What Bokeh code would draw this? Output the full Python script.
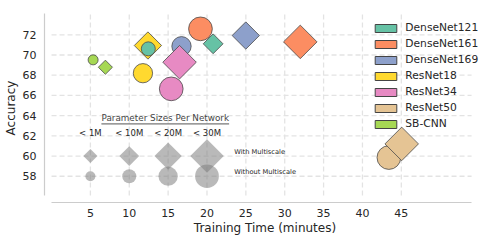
import numpy as np
from bokeh.plotting import figure
from bokeh.models import Range1d, FixedTicker, Legend, LegendItem
from bokeh.core.properties import value
from bokeh.embed import file_html
from bokeh.resources import INLINE

# ---------------- data ----------------
networks = ["DenseNet121", "DenseNet161", "DenseNet169", "ResNet18", "ResNet34", "ResNet50", "SB-CNN"]
colors = ["#66c2a5", "#fc8d62", "#8da0cb", "#ffd92f", "#e78ac3", "#e5c494", "#a6d854"]
params_m = [8.0, 28.7, 14.1, 11.7, 21.8, 25.6, 0.3]          # parameters (millions)
time_single = [12.45, 19.16, 16.72, 11.76, 15.40, 43.40, 5.35]  # without multiscale
acc_single = [70.61, 72.59, 70.87, 68.20, 66.65, 59.85, 69.52]
time_multi = [20.79, 32.00, 24.99, 12.40, 16.47, 45.05, 6.93]   # with multiscale
acc_multi = [71.11, 71.30, 71.93, 70.94, 69.29, 61.20, 68.79]
draw_order = ["DenseNet169", "DenseNet161", "ResNet18", "ResNet34", "ResNet50", "DenseNet121", "SB-CNN"]

size_labels = ["< 1M", "< 10M", "< 20M", "< 30M"]
size_bins_m = [1, 10, 20, 30]
size_key_x = [5, 10, 15, 20]
size_key_y_multi = 60
size_key_y_single = 58

x_ticks = [5, 10, 15, 20, 25, 30, 35, 40, 45]
y_ticks = [58, 60, 62, 64, 66, 68, 70, 72]

# ---------------- style ----------------
BIN_PX = [10, 14, 19.3, 23.7]
FONT = "DejaVu Sans"
TXT = "#262626"
EDGE = "#4a4a4a"
GRID = "#e3e3e3"


def bin_size(p):
    for b, s in zip(size_bins_m, BIN_PX):
        if p <= b:
            return s
    return BIN_PX[-1]


X0, X1 = 0.0, 54.04
Y0, Y1 = 56.09, 74.11

p = figure(width=485, height=242, output_backend="svg", toolbar_location=None,
           x_range=Range1d(-0.905, 55.83), y_range=Range1d(55.4, Y1),
           min_border_left=43, min_border_right=0, min_border_top=13, min_border_bottom=40)
p.outline_line_color = None
p.xgrid.visible = False
p.ygrid.visible = False
p.background_fill_color = "white"

# grid lines
p.segment(x0=x_ticks, x1=x_ticks, y0=[Y0] * len(x_ticks), y1=[Y1] * len(x_ticks),
          line_color=GRID, line_width=1.3, line_dash="5 3")
p.segment(x0=[X0] * len(y_ticks), x1=[X1] * len(y_ticks), y0=y_ticks, y1=y_ticks,
          line_color=GRID, line_width=1.3, line_dash="5 3")

# axes
for ax, ticks, bnds in ((p.xaxis[0], x_ticks, (X0, X1)), (p.yaxis[0], y_ticks, (Y0, Y1))):
    ax.ticker = FixedTicker(ticks=ticks)
    ax.bounds = bnds
    ax.major_tick_out = 0
    ax.major_tick_in = 0
    ax.minor_tick_out = 0
    ax.minor_tick_in = 0
    ax.axis_line_color = "#cccccc"
    ax.axis_line_width = 1.2
    ax.major_label_text_font = FONT
    ax.major_label_text_font_size = "11px"
    ax.major_label_text_color = TXT
    ax.axis_label_text_font = FONT
    ax.axis_label_text_font_size = "12px"
    ax.axis_label_text_font_style = "normal"
    ax.axis_label_text_color = TXT
p.xaxis.axis_label = "Training Time (minutes)"
p.yaxis.axis_label = "Accuracy"
p.xaxis.major_label_standoff = 6
p.xaxis.axis_label_standoff = 1
p.yaxis.major_label_standoff = 8
p.yaxis.axis_label_standoff = 2

# size key
key_sizes = [bin_size(b) for b in size_bins_m]
p.scatter(x=size_key_x, y=[size_key_y_multi] * 4, size=key_sizes, marker="square", angle=np.pi / 4,
          fill_color="#808080", fill_alpha=0.55, line_color=None)
p.scatter(x=size_key_x, y=[size_key_y_single] * 4, size=key_sizes, marker="circle",
          fill_color="#808080", fill_alpha=0.55, line_color=None)
p.text(x=size_key_x, y=[62.26] * 4, text=size_labels, text_font=value(FONT), text_font_size="8.5px",
       text_color=TXT, text_align="center", text_baseline="middle")
title_x, title_y = 14.63, 63.78
p.text(x=[title_x], y=[title_y], text=["Parameter Sizes Per Network"], text_font=value(FONT),
       text_font_size="8.8px", text_color="#444444", text_align="center", text_baseline="middle")
half_w = 128 / 7.79 / 2
p.segment(x0=[title_x - half_w], x1=[title_x + half_w], y0=[title_y - 0.6], y1=[title_y - 0.6],
          line_color="#555555", line_width=1)
p.text(x=[23.5, 23.5], y=[60.38, 58.37], text=["With Multiscale", "Without Multiscale"],
       text_font=value(FONT), text_font_size="6.7px", text_color=TXT,
       text_align="left", text_baseline="middle")

# data markers
for name in draw_order:
    i = networks.index(name)
    s = bin_size(params_m[i])
    p.scatter(x=[time_single[i]], y=[acc_single[i]], size=s, marker="circle",
              fill_color=colors[i], line_color=EDGE, line_width=0.8)
    p.scatter(x=[time_multi[i]], y=[acc_multi[i]], size=s, marker="square", angle=np.pi / 4,
              fill_color=colors[i], line_color=EDGE, line_width=0.8)

# legend (patch proxies: NaN geometry so nothing is drawn in the plot area)
items = []
nan = np.array([np.nan])
for name, c in zip(networks, colors):
    r = p.quad(left=nan, right=nan, top=nan, bottom=nan, fill_color=c, line_color="#444444", line_width=1)
    items.append(LegendItem(label=name, renderers=[r]))
legend = Legend(items=items, location=(328.3, 71.8), label_text_font=FONT, label_text_font_size="10.7px",
                label_text_color=TXT, label_height=13, glyph_height=10, glyph_width=27, spacing=3,
                padding=0, margin=0, label_standoff=6, border_line_alpha=0, background_fill_alpha=0)
p.add_layout(legend)

open("out.html", "w").write(file_html(p, INLINE))
